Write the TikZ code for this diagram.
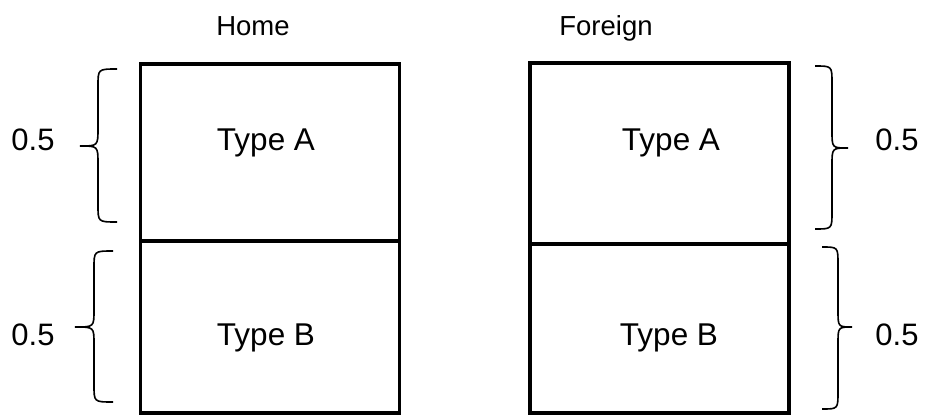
\documentclass[tikz,border=0pt]{standalone}
\usepackage{fontspec}
\setmainfont{Liberation Sans}
\begin{document}
\begin{tikzpicture}[x=1pt,y=-1pt,
  cell/.style={draw=black,line width=3.4pt,minimum width=259pt,inner sep=0pt,outer sep=0pt},
  lbl/.style={font=\fontsize{31.5}{36}\selectfont,anchor=base,inner sep=0pt},
  num/.style={font=\fontsize{31}{36}\selectfont,anchor=base,inner sep=0pt},
  hdr/.style={font=\fontsize{27.5}{34}\selectfont,anchor=base,inner sep=0pt},
  bracepath/.style={draw=black,line width=1.6pt}]
\useasboundingbox (0,0) rectangle (927,415);
% Home boxes
\node[cell,minimum height=177pt] (hA) at (270,152.5) {};
\node[cell,minimum height=172pt] (hB) at (270,327) {};
% Foreign boxes
\node[cell,minimum height=181pt] (fA) at (659.5,153.5) {};
\node[cell,minimum height=169pt] (fB) at (659.5,328.5) {};
% headers
\node[hdr] (home) at (253,35) {Home};
\node[hdr] (foreign) at (606,35) {Foreign};
% texts
\node[lbl] (thA) at (266,150) {Type A};
\node[lbl] (thB) at (266,345) {Type B};
\node[lbl] (tfA) at (671,150) {Type A};
\node[lbl] (tfB) at (669,345) {Type B};
\node[num] (l1) at (33,150) {0.5};
\node[num] (l2) at (33,345) {0.5};
\node[num] (r1) at (897,150) {0.5};
\node[num] (r2) at (897,345) {0.5};
% left braces
\draw[bracepath] (117,69) .. controls (98,69) .. (98,86) -- (98,128)
  .. controls (98,146) .. (80,146) .. controls (98,146) .. (98,164) -- (98,205)
  .. controls (98,222) .. (117,222);
\draw[bracepath] (113,251) .. controls (94,251) .. (94,268) -- (94,310)
  .. controls (94,327) .. (75,327) .. controls (94,327) .. (94,344) -- (94,385)
  .. controls (94,402) .. (113,402);
% right braces
\draw[bracepath] (815,66) .. controls (832,66) .. (832,83) -- (832,131)
  .. controls (832,148) .. (848,148) .. controls (832,148) .. (832,165) -- (832,212)
  .. controls (832,229) .. (815,229);
\draw[bracepath] (822,247) .. controls (838,247) .. (838,264) -- (838,310)
  .. controls (838,327) .. (852,327) .. controls (838,327) .. (838,344) -- (838,392)
  .. controls (838,409) .. (822,409);
\end{tikzpicture}
\end{document}
